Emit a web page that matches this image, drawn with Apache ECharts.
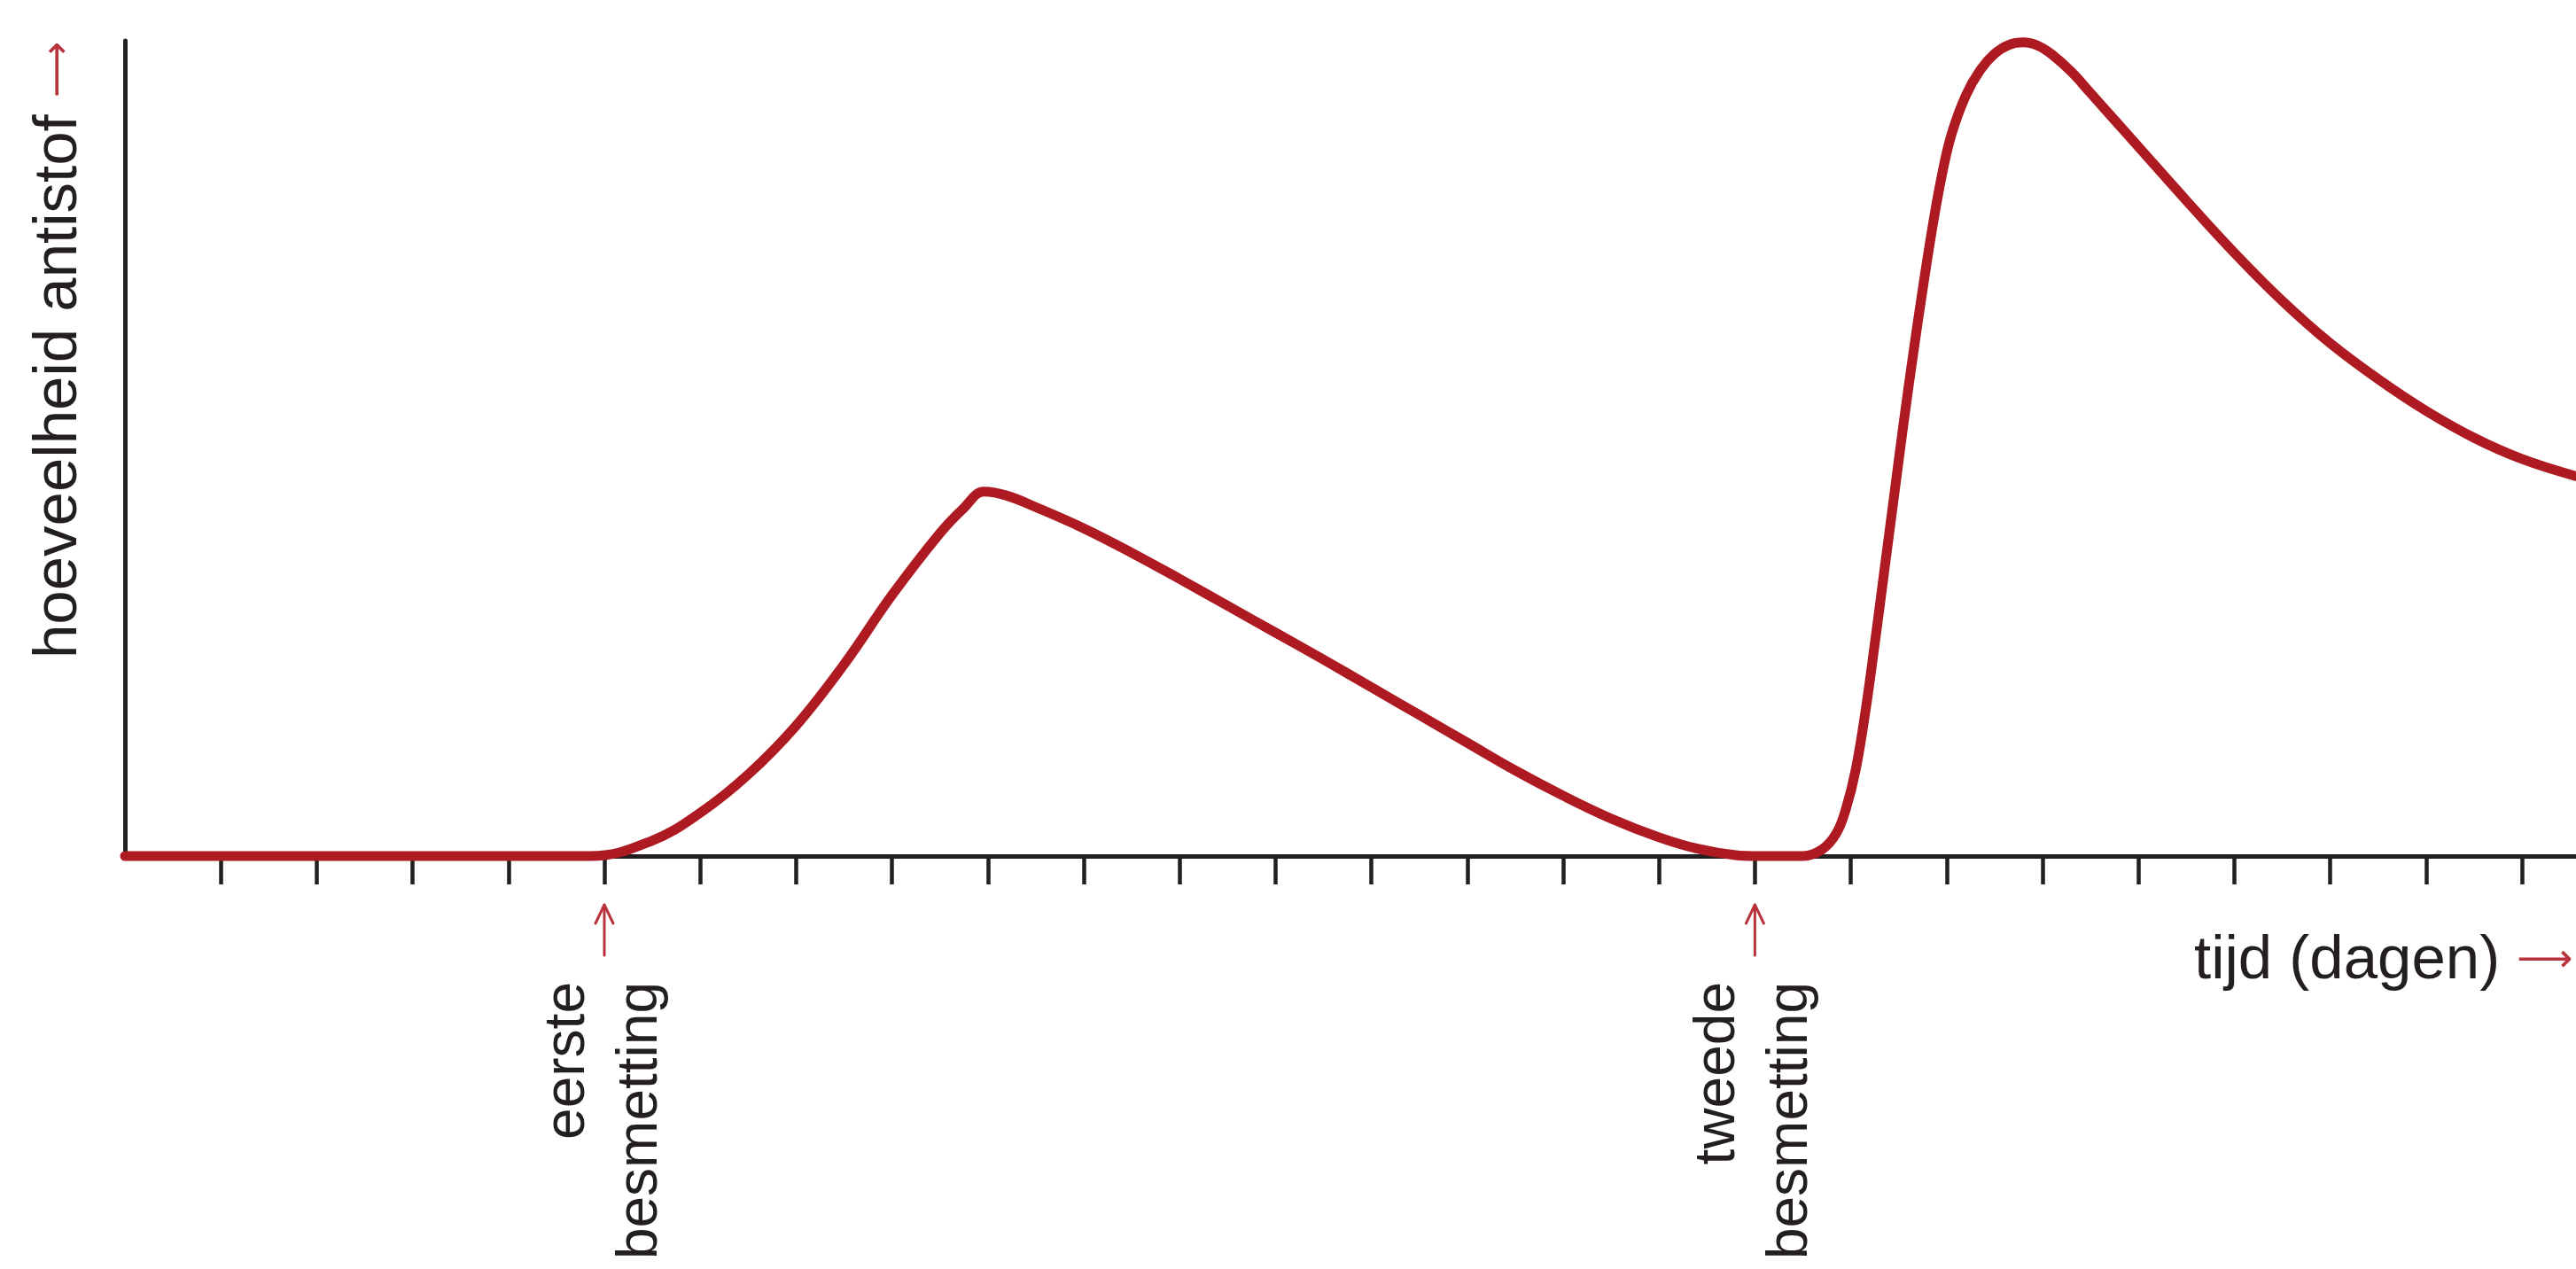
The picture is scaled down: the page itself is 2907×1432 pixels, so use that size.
<!DOCTYPE html>
<html>
<head>
<meta charset="utf-8">
<script src="https://cdn.jsdelivr.net/npm/echarts@6/dist/echarts.min.js"></script>
<style>
  html, body { margin: 0; padding: 0; background: #ffffff; }
  #chart { width: 2907px; height: 1432px; }
</style>
</head>
<body>
<div id="chart"></div>
<script>
// ---- data (x in days = tick units, y = relative antibody amount 0..100) ----
const days = [0, 4.85, 5.5, 6.0, 6.5, 7.0, 7.5, 8.0, 8.5, 8.75, 8.96, 9.2, 9.5, 10.0, 10.5, 11.0, 11.5, 12.0, 12.5, 13.0, 13.5, 14.0, 14.5, 15.0, 15.5, 16.0, 16.4, 16.8, 17.0, 17.5, 17.7, 17.85, 17.95, 18.05, 18.15, 18.25, 18.35, 18.45, 18.55, 18.65, 18.75, 18.85, 18.95, 19.05, 19.2, 19.35, 19.5, 19.65, 19.8, 19.95, 20.1, 20.3, 20.5, 20.75, 21.0, 21.5, 22.0, 22.5, 23.0, 23.5, 24.0, 24.5, 25.0, 25.56];
const antistof = [0, 0, 1.9, 5.3, 10.0, 16.0, 23.5, 32.0, 39.6, 42.7, 44.7, 44.2, 42.8, 40.2, 37.2, 34.0, 30.7, 27.4, 24.1, 20.7, 17.3, 13.9, 10.5, 7.4, 4.6, 2.3, 0.9, 0.1, 0, 0, 0.8, 2.8, 5.8, 10.5, 17.5, 26, 35, 44, 53, 61.5, 69.5, 77, 83.5, 88.5, 93.3, 96.4, 98.4, 99.5, 99.8, 99.4, 98.3, 96.2, 93.6, 90.3, 87.0, 80.4, 74.0, 68.1, 62.9, 58.5, 54.6, 51.3, 48.7, 46.6];
const tickDays = [1, 2, 3, 4, 5, 6, 7, 8, 9, 10, 11, 12, 13, 14, 15, 16, 17, 18, 19, 20, 21, 22, 23, 24, 25];
const infectionDays = [5, 17];
const infectionLabels = ['eerste\nbesmetting', 'tweede\nbesmetting'];
const xAxisTitle = 'tijd (dagen)';
const yAxisTitle = 'hoeveelheid antistof';

const X_MAX = 25.564;
const RED = '#ae1a21';
const ARROW_RED = '#b8333b';
const INK = '#231f20';
const FONT = "'Liberation Sans', Arial, sans-serif";
const ARROW_FONT = "'DejaVu Sans', sans-serif";

const chart = echarts.init(document.getElementById('chart'), null, { renderer: 'canvas' });

const option = {
  backgroundColor: '#ffffff',
  animation: false,
  grid: { left: 141, right: 0, top: 46, bottom: 466, containLabel: false },
  xAxis: {
    type: 'value', min: 0, max: X_MAX, position: 'bottom',
    axisLine: { show: true, onZero: false, lineStyle: { color: INK, width: 5 } },
    axisTick: { show: true, length: 32, customValues: tickDays, lineStyle: { color: INK, width: 4.5 } },
    splitLine: { show: false },
    axisLabel: {
      show: true, customValues: infectionDays, rotate: 90, margin: 142,
      formatter: function (v) { return infectionLabels[infectionDays.indexOf(v)] || ''; },
      fontSize: 64, lineHeight: 82, color: INK, fontFamily: FONT
    },
    name: xAxisTitle + ' {a|⟶}', nameLocation: 'end', nameGap: -431,
    nameTextStyle: {
      fontSize: 69, color: INK, fontFamily: FONT, align: 'left', verticalAlign: 'middle',
      padding: [238, 0, 0, 0],
      rich: { a: { color: ARROW_RED, fontSize: 44, fontFamily: ARROW_FONT, verticalAlign: 'middle' } }
    }
  },
  yAxis: {
    type: 'value', min: 0, max: 100,
    axisLine: { show: true, onZero: false, lineStyle: { color: INK, width: 5 } },
    axisTick: { show: false }, axisLabel: { show: false }, splitLine: { show: false },
    name: yAxisTitle + ' {a|⟶}', nameLocation: 'middle', nameRotate: 90, nameGap: 40,
    nameTextStyle: {
      fontSize: 69, color: INK, fontFamily: FONT,
      padding: [0, 0, 0, 222],
      rich: { a: { color: ARROW_RED, fontSize: 44, fontFamily: ARROW_FONT, verticalAlign: 'middle' } }
    }
  },
  series: [
    {
      type: 'line',
      data: days.map(function (d, i) { return [d, antistof[i]]; }),
      showSymbol: false, smooth: 0.4, clip: false, z: 5,
      lineStyle: { color: RED, width: 11, cap: 'round', join: 'round' }
    },
    {
      // thin red arrows pointing at the infection days, just under the axis
      type: 'custom', clip: false, silent: true, z: 4,
      data: infectionDays.map(function (d) { return [d, 0]; }),
      renderItem: function (params, api) {
        const p = api.coord([api.value(0), 0]);
        const x = p[0], y = p[1];
        const st = { stroke: ARROW_RED, lineWidth: 3, fill: null, lineCap: 'round', lineJoin: 'round' };
        return {
          type: 'group',
          children: [
            { type: 'line', shape: { x1: x, y1: y + 55, x2: x, y2: y + 112 }, style: st },
            { type: 'polyline', shape: { points: [[x - 10, y + 76], [x, y + 55], [x + 10, y + 76]] }, style: st }
          ]
        };
      }
    }
  ]
};
chart.setOption(option);
</script>
</body>
</html>
